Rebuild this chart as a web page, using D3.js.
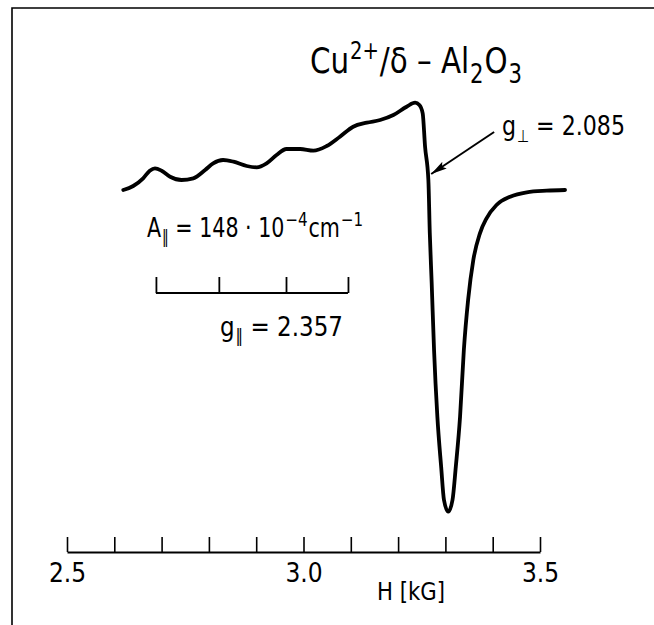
<!DOCTYPE html>
<html>
<head>
<meta charset="utf-8">
<script src="https://cdn.jsdelivr.net/npm/d3@7"></script>
<style>
  body { margin: 0; background: #fff; }
  text { font-family: "Liberation Sans Narrow", "DejaVu Sans Condensed", "Liberation Sans", sans-serif; fill: #000; }
</style>
</head>
<body>
<script>
// Field values (kG) and derivative signal (arbitrary units)
const fieldKG = [2.619, 2.640, 2.661, 2.675, 2.686, 2.700, 2.718, 2.742, 2.767, 2.792,
  2.809, 2.830, 2.852, 2.880, 2.901, 2.922, 2.943, 2.964, 2.993, 3.021,
  3.049, 3.077, 3.105, 3.134, 3.162, 3.190, 3.218, 3.236, 3.245, 3.252,
  3.257, 3.264, 3.267, 3.271, 3.276, 3.283, 3.291, 3.297, 3.306, 3.315,
  3.322, 3.331, 3.339, 3.348, 3.359, 3.373, 3.387, 3.408, 3.437, 3.472,
  3.514, 3.553];
const signal = [0.0, 0.4, 1.17, 1.93, 2.17, 1.93, 1.33, 1.0, 1.17, 2.0,
  2.67, 3.0, 2.83, 2.4, 2.27, 2.67, 3.5, 4.1, 4.1, 3.93,
  4.4, 5.33, 6.33, 6.73, 7.0, 7.5, 8.33, 8.73, 8.5, 7.67,
  4.33, 1.0, -4.3, -9.3, -16.0, -22.67, -27.67, -31.0, -32.17, -31.0,
  -27.67, -22.67, -16.0, -11.0, -7.0, -4.33, -2.83, -1.5, -0.67, -0.23,
  -0.07, 0.0];

// axis ticks
const tickValues = [2.5, 2.6, 2.7, 2.8, 2.9, 3.0, 3.1, 3.2, 3.3, 3.4, 3.5];
const tickLabels = ["2.5", "3.0", "3.5"];

// hyperfine splitting bar (A parallel), in kG
const hyperfineLines = [2.688, 2.821, 2.963, 3.094];

// g-perp arrow: [tail, tip] in (kG, signal)
const arrowPoints = [[3.403, 5.8], [3.270, 1.6]];

const width = 654, height = 625;

const svg = d3.select('body')
  .append('svg')
  .attr('width', width)
  .attr('height', height);

// frame lines (top and left)
svg.append('path')
  .attr('d', `M12,${height}V8H${width}`)
  .attr('fill', 'none')
  .attr('stroke', '#000')
  .attr('stroke-width', 1.6);

const x = d3.scaleLinear().domain([2.5, 3.5]).range([67, 540]);
const y = d3.scaleLinear().domain([-35, 10]).range([540, 90]);

// H axis with ticks pointing up
const xAxis = d3.axisBottom(x)
  .tickValues(tickValues)
  .tickSizeInner(-15)
  .tickSizeOuter(0)
  .tickPadding(12)
  .tickFormat(d => tickLabels.includes(d.toFixed(1)) ? d.toFixed(1) : '');

const gx = svg.append('g')
  .attr('transform', 'translate(0,552)')
  .call(xAxis);
gx.select('.domain').attr('stroke-width', 2);
gx.selectAll('.tick line').attr('stroke-width', 1.6);
gx.selectAll('.tick text')
  .style('font-size', '26px')
  .attr('font-family', null);

svg.append('text')
  .attr('x', 377)
  .attr('y', 600)
  .style('font-size', '25px')
  .attr('textLength', 68)
  .attr('lengthAdjust', 'spacingAndGlyphs')
  .text('H [kG]');

// spectrum
const line = d3.line()
  .x((d, i) => x(fieldKG[i]))
  .y(d => y(d))
  .curve(d3.curveMonotoneX);

svg.append('path')
  .datum(signal)
  .attr('d', line)
  .attr('fill', 'none')
  .attr('stroke', '#000')
  .attr('stroke-width', 3.8)
  .attr('stroke-linejoin', 'round')
  .attr('stroke-linecap', 'round');

// hyperfine bar
const barAxis = d3.axisBottom(x)
  .tickValues(hyperfineLines)
  .tickSizeInner(-16)
  .tickSizeOuter(0)
  .tickFormat('');
const bar = svg.append('g')
  .attr('transform', 'translate(0,293)')
  .call(barAxis);
bar.select('.domain')
  .attr('d', `M${x(hyperfineLines[0])},0H${x(hyperfineLines[3])}`)
  .attr('stroke-width', 2);
bar.selectAll('.tick line').attr('stroke-width', 1.8);

// arrow to g-perp
svg.append('defs').append('marker')
  .attr('id', 'head')
  .attr('viewBox', '0 0 16 8')
  .attr('refX', 16)
  .attr('refY', 4)
  .attr('markerWidth', 16)
  .attr('markerHeight', 8)
  .attr('markerUnits', 'userSpaceOnUse')
  .attr('orient', 'auto')
  .append('path')
  .attr('d', 'M0,0L16,4L0,8L3,4Z')
  .attr('fill', '#000');

svg.append('line')
  .attr('x1', x(arrowPoints[0][0]))
  .attr('y1', y(arrowPoints[0][1]))
  .attr('x2', x(arrowPoints[1][0]))
  .attr('y2', y(arrowPoints[1][1]))
  .attr('stroke', '#000')
  .attr('stroke-width', 2)
  .attr('marker-end', 'url(#head)');

// title
const title = svg.append('text')
  .attr('x', 310)
  .attr('y', 73)
  .style('font-size', '36px')
  .attr('textLength', 212)
  .attr('lengthAdjust', 'spacingAndGlyphs');
title.append('tspan').text('Cu');
title.append('tspan').attr('dx', 1).attr('dy', -14).style('font-size', '24px').text('2+');
title.append('tspan').attr('dx', 1).attr('dy', 14).text('/δ – Al');
title.append('tspan').attr('dx', 1).attr('dy', 10).style('font-size', '26px').text('2');
title.append('tspan').attr('dx', 1).attr('dy', -10).text('O');
title.append('tspan').attr('dx', 1).attr('dy', 10).style('font-size', '26px').text('3');

// g perpendicular
const gPerp = svg.append('text')
  .attr('x', 502)
  .attr('y', 135)
  .style('font-size', '27px')
  .attr('textLength', 123)
  .attr('lengthAdjust', 'spacingAndGlyphs');
gPerp.append('tspan').text('g');
gPerp.append('tspan').attr('dx', 1).attr('dy', 7).style('font-size', '17px').text('⊥');
gPerp.append('tspan').attr('dy', -7).text(' = 2.085');

// A parallel
const aPar = svg.append('text')
  .attr('x', 147)
  .attr('y', 237)
  .style('font-size', '26px')
  .attr('textLength', 216)
  .attr('lengthAdjust', 'spacingAndGlyphs');
aPar.append('tspan').text('A');
aPar.append('tspan').attr('dx', 1).attr('dy', 6).style('font-size', '17px').text('‖');
aPar.append('tspan').attr('dy', -6).text(' = 148 · 10');
aPar.append('tspan').attr('dx', 1).attr('dy', -11).style('font-size', '19px').text('−4');
aPar.append('tspan').attr('dx', 1).attr('dy', 11).text('cm');
aPar.append('tspan').attr('dx', 1).attr('dy', -11).style('font-size', '19px').text('−1');

// g parallel
const gPar = svg.append('text')
  .attr('x', 220)
  .attr('y', 336)
  .style('font-size', '26px')
  .attr('textLength', 123)
  .attr('lengthAdjust', 'spacingAndGlyphs');
gPar.append('tspan').text('g');
gPar.append('tspan').attr('dx', 1).attr('dy', 6).style('font-size', '17px').text('‖');
gPar.append('tspan').attr('dy', -6).text(' = 2.357');
</script>
</body>
</html>
